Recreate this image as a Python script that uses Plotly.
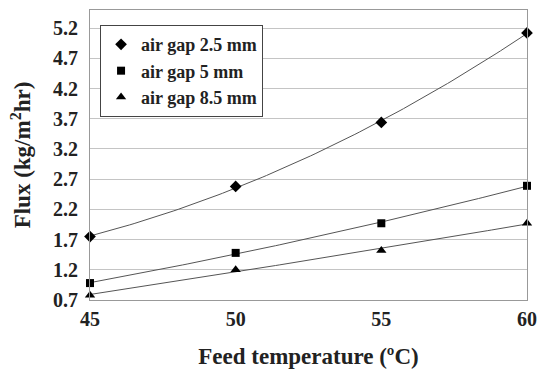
import numpy as np
import plotly.graph_objects as go

temps = [45, 50, 55, 60]
gap_2_5 = [1.75, 2.58, 3.64, 5.12]
gap_5 = [0.98, 1.48, 1.97, 2.59]
gap_8_5 = [0.78, 1.20, 1.52, 1.97]
series_names = ["air gap 2.5 mm", "air gap 5 mm", "air gap 8.5 mm"]
y_ticks = [0.7, 1.2, 1.7, 2.2, 2.7, 3.2, 3.7, 4.2, 4.7, 5.2]
x_ticks = [45, 50, 55, 60]

series = [gap_2_5, gap_5, gap_8_5]
symbols = ["diamond", "square", "triangle-up"]
sizes = [9, 8, 9]

fig = go.Figure()
xs = np.linspace(45, 60, 100)
for vals in series:
    coef = np.polyfit(temps, vals, 2)
    fig.add_trace(go.Scatter(x=xs, y=np.polyval(coef, xs), mode="lines",
                             line=dict(color="#555555", width=1),
                             showlegend=False, hoverinfo="skip"))
for vals, name, sym, sz in zip(series, series_names, symbols, sizes):
    fig.add_trace(go.Scatter(x=temps, y=vals, mode="markers", name=name,
                             marker=dict(symbol=sym, size=sz, color="black"),
                             cliponaxis=False))

font = "Liberation Serif"
fig.update_layout(
    width=539, height=369,
    margin=dict(l=90, r=12, t=10, b=69),
    paper_bgcolor="white", plot_bgcolor="white",
    font=dict(family=font, color="#222222"),
    showlegend=True,
    legend=dict(x=0.023, y=0.948, xanchor="left", yanchor="top",
                bordercolor="#444444", borderwidth=1, bgcolor="white",
                font=dict(family=font, size=18, color="#222222", weight="bold"),
                itemwidth=30, tracegroupgap=0),
    xaxis=dict(range=[45, 60], tickvals=x_ticks, showgrid=False,
               showline=True, linecolor="#999999", mirror=True, linewidth=1,
               ticks="", zeroline=False, automargin=False, ticklabelstandoff=1,
               tickfont=dict(family=font, size=20, weight="bold"),
               title=dict(text="Feed temperature (ºC)", standoff=21,
                          font=dict(family=font, size=23, weight="bold"))),
    yaxis=dict(range=[0.7, 5.5], tickvals=y_ticks, ticktext=[f"{v:.1f}" for v in y_ticks],
               showgrid=True, gridcolor="#c4c4c4", gridwidth=1,
               showline=True, linecolor="#999999", mirror=True, linewidth=1,
               ticks="", zeroline=False, automargin=False, ticklabelstandoff=7,
               tickfont=dict(family=font, size=20, weight="bold"),
               title=dict(text="Flux (kg/m<sup>2</sup>hr)", standoff=15,
                          font=dict(family=font, size=23, weight="bold"))),
)
fig.write_html("out.html", config={"displayModeBar": False},
               post_script="document.body.style.margin='0';document.body.style.overflow='hidden';")
